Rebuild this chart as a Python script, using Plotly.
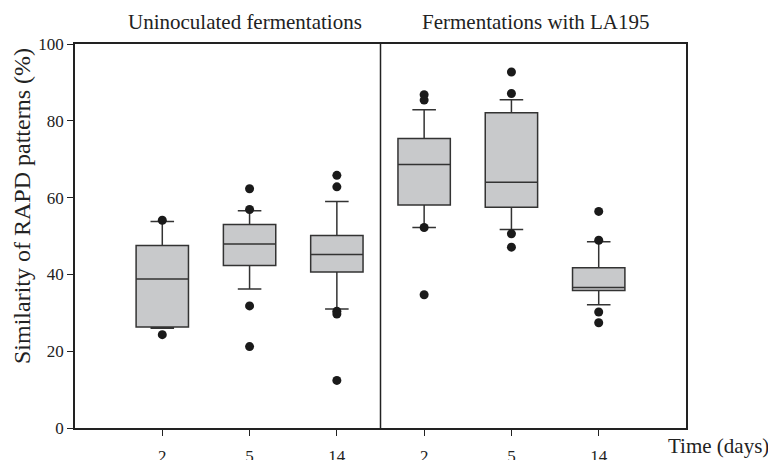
import plotly.graph_objects as go

# ---- data ----
positions = [1, 2, 3, 4, 5, 6]
tick_labels = ["2", "5", "14", "2", "5", "14"]
group_labels = ["Uninoculated fermentations", "Fermentations with LA195"]

q1 = [26.3, 42.3, 40.6, 58.1, 57.5, 35.8]
median = [38.8, 47.9, 45.2, 68.6, 64.0, 36.6]
q3 = [47.5, 53.0, 50.1, 75.4, 82.1, 41.7]
lower_whisker = [26.0, 36.2, 31.0, 52.2, 51.7, 32.1]
upper_whisker = [53.8, 56.6, 59.0, 82.9, 85.5, 48.5]

outliers = [
    [54.1, 24.3],
    [62.3, 56.9, 31.8, 21.2],
    [65.8, 62.8, 30.4, 29.7, 12.4],
    [86.8, 85.4, 52.2, 34.7],
    [92.7, 87.1, 50.6, 47.1],
    [56.4, 48.9, 30.2, 27.4],
]

FONT = "Liberation Serif"
DARK = "#222222"

fig = go.Figure()

fig.add_trace(go.Box(
    x=positions, q1=q1, median=median, q3=q3,
    lowerfence=lower_whisker, upperfence=upper_whisker,
    width=0.6, whiskerwidth=0.45,
    fillcolor="#c8c9cb",
    line=dict(color="#333333", width=1.5),
    boxpoints=False, hoverinfo="skip", showlegend=False,
))

ox, oy = [], []
for p, vals in zip(positions, outliers):
    for v in vals:
        ox.append(p)
        oy.append(v)
fig.add_trace(go.Scatter(
    x=ox, y=oy, mode="markers",
    marker=dict(color="#1a1a1a", size=9),
    showlegend=False, hoverinfo="skip",
))

# divider between groups
fig.add_shape(type="line", xref="x", yref="y", x0=3.5, x1=3.5, y0=0, y1=100,
              line=dict(color=DARK, width=1.5))

fig.update_xaxes(
    range=[0, 7], tickvals=positions, ticktext=tick_labels,
    showline=True, linecolor=DARK, linewidth=1.5, mirror=True,
    ticks="outside", ticklen=6, tickwidth=1.3, tickcolor=DARK,
    showgrid=False, zeroline=False, ticklabelstandoff=6, automargin=False,
    tickfont=dict(family=FONT, size=17, color="#222"),
)
fig.update_yaxes(
    range=[0, 100], tickvals=[0, 20, 40, 60, 80, 100],
    showline=True, linecolor=DARK, linewidth=1.5, mirror=True,
    ticks="outside", ticklen=6, tickwidth=1.3, tickcolor=DARK,
    showgrid=False, zeroline=False, automargin=False,
    tickfont=dict(family=FONT, size=17, color="#222"),
)

annotations = [
    dict(text=group_labels[0], x=245, y=22),
    dict(text=group_labels[1], x=535, y=22),
]
W, H = 768, 460
ml, mr, mt, mb = 75, 82, 44, 32
pw, ph = W - ml - mr, H - mt - mb


def px2paper(px, py):
    return (px - ml) / pw, (H - mb - py) / ph


for a in annotations:
    xp, yp = px2paper(a["x"], a["y"])
    fig.add_annotation(text=a["text"], x=xp, y=yp, xref="paper", yref="paper",
                       showarrow=False, xanchor="center", yanchor="middle",
                       font=dict(family=FONT, size=21, color="#222"))

xp, yp = px2paper(666, 446)
fig.add_annotation(text="Time (days)", x=xp, y=yp, xref="paper", yref="paper",
                   showarrow=False, xanchor="left", yanchor="middle",
                   font=dict(family=FONT, size=21, color="#222"))

xp, yp = px2paper(22, 206)
fig.add_annotation(text="Similarity of RAPD patterns (%)", x=xp, y=yp,
                   xref="paper", yref="paper", textangle=-90,
                   showarrow=False, xanchor="center", yanchor="middle",
                   font=dict(family=FONT, size=24, color="#222"))

fig.update_layout(
    width=W, height=H,
    margin=dict(l=ml, r=mr, t=mt, b=mb, autoexpand=False),
    paper_bgcolor="white", plot_bgcolor="white",
    font=dict(family=FONT, color="#222"),
    showlegend=False,
)

fig.write_html("out.html")
